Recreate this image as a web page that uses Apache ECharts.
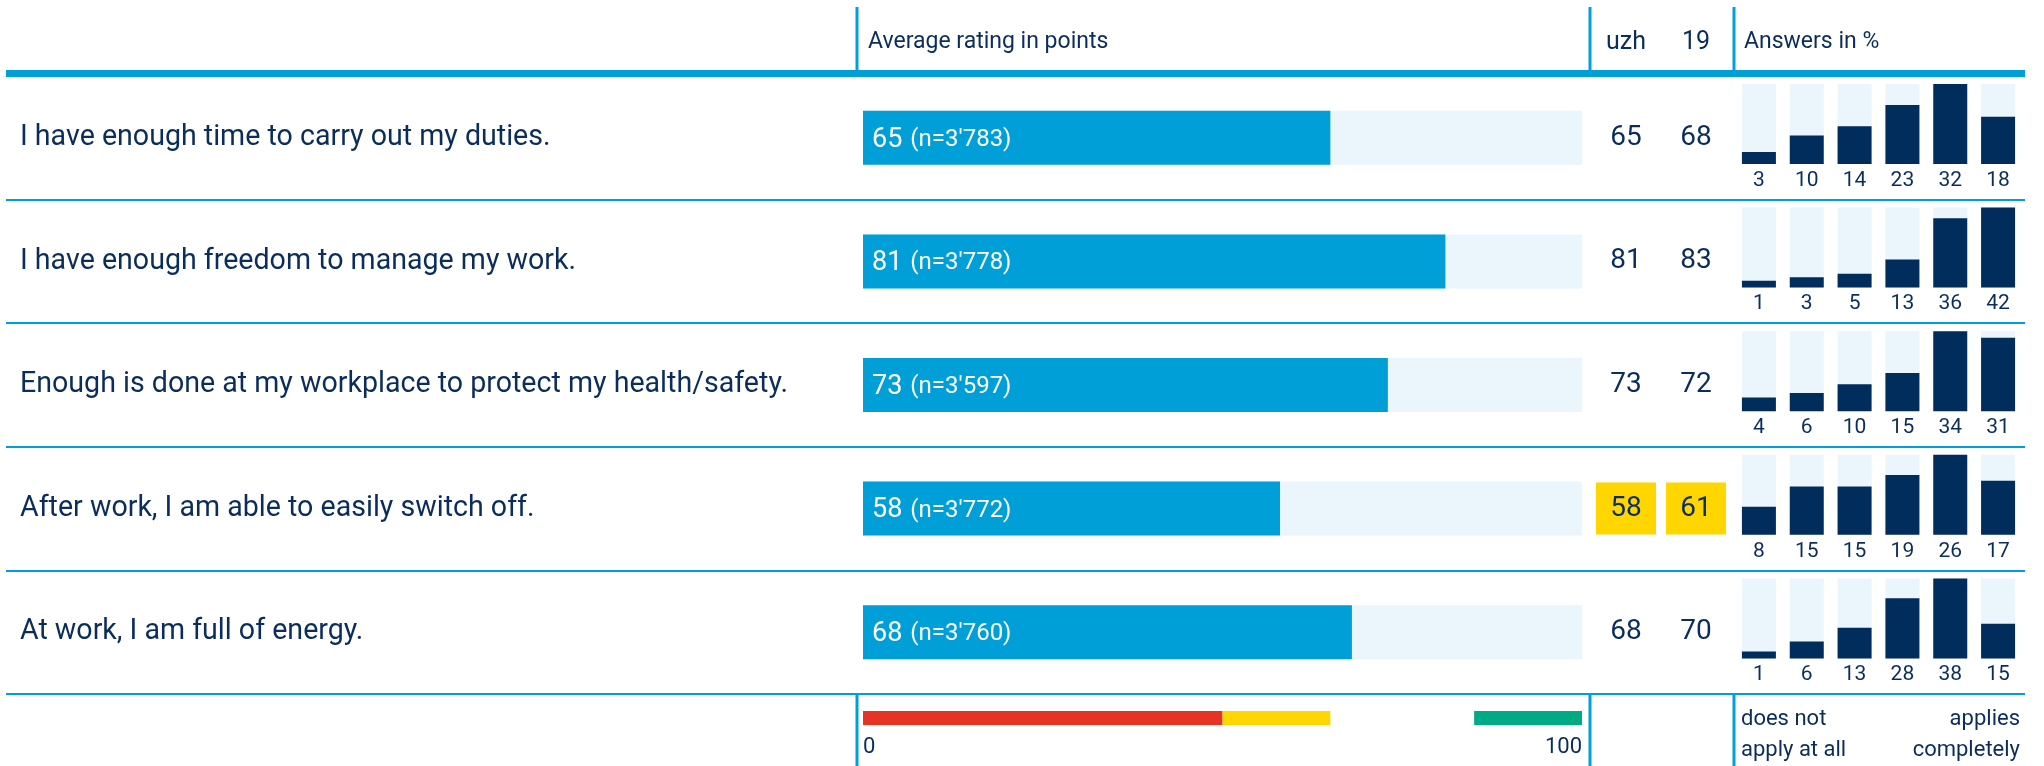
<!DOCTYPE html>
<html>
<head>
<meta charset="utf-8">
<script src="https://cdn.jsdelivr.net/npm/echarts@6/dist/echarts.min.js"></script>
<style>
  html, body { margin: 0; padding: 0; background: #fff; }
  #main { width: 2044px; height: 766px; }
</style>
</head>
<body>
<div id="main"></div>
<script>
// survey rows
var questions = [
    'I have enough time to carry out my duties.',
    'I have enough freedom to manage my work.',
    'Enough is done at my workplace to protect my health/safety.',
    'After work, I am able to easily switch off.',
    'At work, I am full of energy.'
];
var avgScores = [65, 81, 73, 58, 68];
var sampleSizes = ["3'783", "3'778", "3'597", "3'772", "3'760"];

// comparison columns
var columnNames = ['uzh', '19'];
var uzhScores = [65, 81, 73, 58, 68];
var scores19 = [68, 83, 72, 61, 70];

// answers in %, "does not apply at all" .. "applies completely"
var answerCats = ['1', '2', '3', '4', '5', '6'];
var answerShares = [
    [3, 10, 14, 23, 32, 18],
    [1, 3, 5, 13, 36, 42],
    [4, 6, 10, 15, 34, 31],
    [8, 15, 15, 19, 26, 17],
    [1, 6, 13, 28, 38, 15]
];

// rating scale bands (0..100)
var bandStart = [0, 50, 85];
var bandEnd = [50, 65, 100];
var scaleTicks = [0, 100];

var BLUE = '#009fd8';
var NAVY = '#0b2d5b';
var BAR_NAVY = '#002d5c';
var LIGHT = '#eaf5fc';
var YELLOW = '#ffd600';
var RED = '#e63323';
var GREEN = '#00aa84';
var bandColors = [RED, YELLOW, GREEN];

var TOP = 76, BODY_H = 618, ROW_H = BODY_H / questions.length;

var chart = echarts.init(document.getElementById('main'));

function scoreColor(v) {
    if (v < 50) return RED;
    if (v < 65) return YELLOW;
    return 'rgba(0,0,0,0)';
}

var grids = [
    { left: 6, top: TOP, width: 2019, height: BODY_H },        // table rows
    { left: 863, top: TOP, width: 719, height: BODY_H },       // average bars
    { left: 1591, top: TOP, width: 140, height: BODY_H },      // uzh / 19
    { left: 863, top: 711, width: 719, height: 14 }            // scale legend
];
var xAxes = [
    { gridIndex: 0, type: 'value', show: false },
    { gridIndex: 1, type: 'value', min: 0, max: 100, show: false },
    {
        gridIndex: 2, type: 'category', position: 'top', data: columnNames,
        axisLine: { show: false }, axisTick: { show: false },
        axisLabel: { fontSize: 25, color: NAVY, margin: 21 }
    },
    {
        gridIndex: 3, type: 'value', min: 0, max: 100, interval: 100,
        axisLine: { show: false }, axisTick: { show: false }, splitLine: { show: false },
        axisLabel: {
            fontSize: 22, color: NAVY, margin: 11,
            alignMinLabel: 'left', alignMaxLabel: 'right',
            formatter: function (v) { return scaleTicks.indexOf(v) >= 0 ? String(v) : ''; }
        }
    }
];
var yAxes = [
    {
        gridIndex: 0, type: 'category', data: questions, inverse: true,
        axisLine: { show: false }, axisTick: { show: false },
        axisLabel: { inside: true, margin: 14, fontSize: 28.6, color: NAVY, align: 'left', padding: [6, 0, 0, 0] },
        splitLine: { show: true, lineStyle: { color: BLUE, width: 2 } }
    },
    { gridIndex: 1, type: 'category', data: questions, inverse: true, show: false },
    { gridIndex: 2, type: 'category', data: questions, inverse: true, show: false },
    { gridIndex: 3, type: 'value', min: 0, max: 1, show: false }
];

var series = [
    {
        type: 'bar', xAxisIndex: 1, yAxisIndex: 1,
        data: avgScores, barWidth: 54,
        itemStyle: { color: BLUE },
        showBackground: true, backgroundStyle: { color: LIGHT },
        label: {
            show: true, position: 'insideLeft', distance: 9,
            formatter: function (p) {
                return '{a|' + p.value + '} {b|(n=' + sampleSizes[p.dataIndex] + ')}';
            },
            rich: {
                a: { fontSize: 27, color: '#fff', padding: [4, 0, 0, 0] },
                b: { fontSize: 24, color: '#fff', padding: [4, 0, 0, 5] }
            }
        },
        silent: true
    },
    {
        type: 'scatter', xAxisIndex: 2, yAxisIndex: 2,
        symbol: 'rect', symbolSize: [60, 52],
        data: questions.map(function (q, i) { return ['uzh', i, uzhScores[i]]; })
            .concat(questions.map(function (q, i) { return ['19', i, scores19[i]]; })),
        itemStyle: { color: function (p) { return scoreColor(p.value[2]); }, opacity: 1 },
        label: {
            show: true, position: 'inside', fontSize: 28, color: NAVY, padding: [5, 0, 0, 0],
            formatter: function (p) { return p.value[2]; }
        },
        silent: true
    },
    {
        type: 'custom', xAxisIndex: 3, yAxisIndex: 3,
        data: bandStart.map(function (s, i) { return [s, bandEnd[i], i]; }),
        renderItem: function (params, api) {
            var a = api.coord([api.value(0), 0]);
            var b = api.coord([api.value(1), 0]);
            var cs = params.coordSys;
            return {
                type: 'rect',
                shape: { x: a[0], y: cs.y, width: b[0] - a[0], height: cs.height },
                style: { fill: bandColors[api.value(2)] }
            };
        },
        silent: true
    }
];

answerShares.forEach(function (row, r) {
    var gi = grids.length;
    var rowMax = Math.max.apply(null, row);
    grids.push({ left: 1735, width: 287, top: TOP + r * ROW_H + 8, height: 80 });
    xAxes.push({
        gridIndex: gi, type: 'category', data: answerCats,
        axisLine: { show: false }, axisTick: { show: false },
        axisLabel: {
            fontSize: 21, color: NAVY, margin: 6,
            formatter: function (v, idx) { return String(row[idx]); }
        }
    });
    yAxes.push({
        gridIndex: gi, type: 'value', show: false,
        min: -rowMax / 15, max: rowMax
    });
    series.push({
        type: 'custom', xAxisIndex: gi, yAxisIndex: gi,
        data: row.map(function (v, i) { return [i, v]; }),
        renderItem: function (params, api) {
            var cs = params.coordSys;
            var p = api.coord([api.value(0), api.value(1)]);
            var w = 34;
            var bottom = cs.y + cs.height;
            return {
                type: 'group',
                children: [
                    { type: 'rect', shape: { x: p[0] - w / 2, y: cs.y, width: w, height: cs.height }, style: { fill: LIGHT } },
                    { type: 'rect', shape: { x: p[0] - w / 2, y: p[1], width: w, height: bottom - p[1] }, style: { fill: BAR_NAVY } }
                ]
            };
        },
        silent: true
    });
});

// table rules and header / footer texts
function vline(x, y1, y2) {
    return { type: 'rect', shape: { x: x - 1.5, y: y1, width: 3, height: y2 - y1 }, style: { fill: BLUE }, silent: true };
}
var graphics = [
    { type: 'rect', shape: { x: 6, y: 70, width: 2019, height: 6 }, style: { fill: BLUE }, silent: true },
    vline(857, 7, 70), vline(1590, 7, 70), vline(1734, 7, 70),
    vline(857, 694, 766), vline(1590, 694, 766), vline(1734, 694, 766),
    { type: 'text', x: 868, y: 42, style: { text: 'Average rating in points', fill: NAVY, font: '23px Roboto', verticalAlign: 'middle' } },
    { type: 'text', x: 1744, y: 42, style: { text: 'Answers in %', fill: NAVY, font: '23px Roboto', verticalAlign: 'middle' } },
    { type: 'text', x: 1741, y: 704, style: { text: 'does not\napply at all', fill: NAVY, font: '22px Roboto', lineHeight: 31, verticalAlign: 'top' } },
    { type: 'text', x: 2020, y: 704, style: { text: 'applies\ncompletely', fill: NAVY, font: '22px Roboto', lineHeight: 31, align: 'right', verticalAlign: 'top' } }
];

chart.setOption({
    animation: false,
    textStyle: { fontFamily: 'Roboto' },
    grid: grids,
    xAxis: xAxes,
    yAxis: yAxes,
    series: series,
    graphic: graphics
});
</script>
</body>
</html>
